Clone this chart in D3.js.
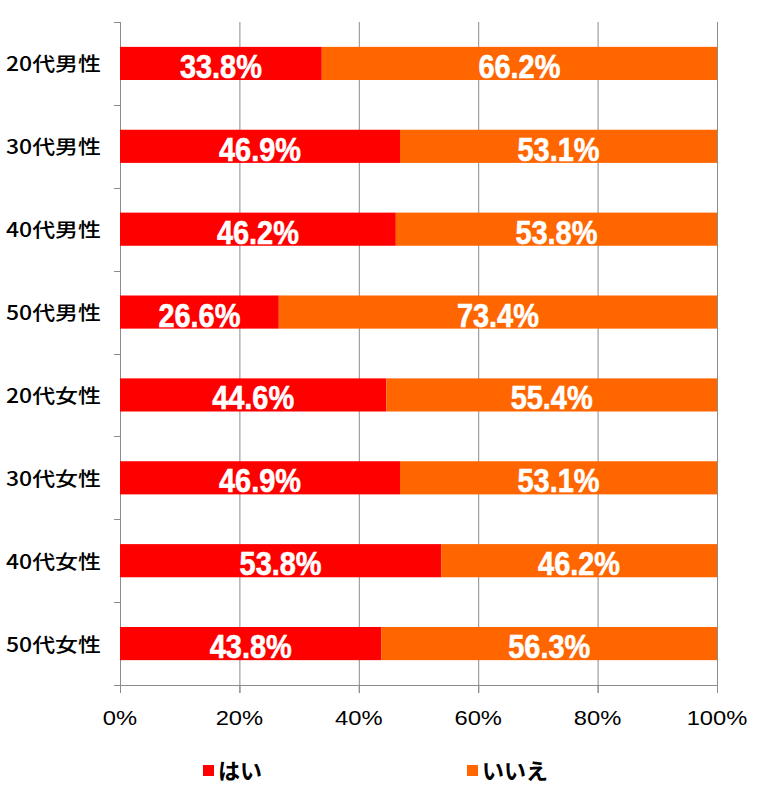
<!DOCTYPE html>
<html><head><meta charset="utf-8">
<script src="https://cdn.jsdelivr.net/npm/d3@7"></script>
<style>body{margin:0;background:#fff}</style>
</head><body>
<svg id="chart" width="766" height="802"></svg>
<script>
const categories = ["20代男性","30代男性","40代男性","50代男性","20代女性","30代女性","40代女性","50代女性"];
const seriesNames = ["はい","いいえ"];
const yesValues = [33.8, 46.9, 46.2, 26.6, 44.6, 46.9, 53.8, 43.8];
const noValues  = [66.2, 53.1, 53.8, 73.4, 55.4, 53.1, 46.2, 56.3];
const xTicks = [0, 20, 40, 60, 80, 100];
const colors = ["#ff0000", "#ff6600"];

const svg = d3.select("#chart");
const mLeft = 120, mRight = 717, mTop = 22, mBottom = 685;
const x = d3.scaleLinear().domain([0, 100]).range([mLeft, mRight]);
const y = d3.scaleBand().domain(categories).range([mTop, mBottom]).paddingInner(0.6).paddingOuter(0.3);
const band = d3.scaleBand().domain(categories).range([mTop, mBottom]);
const gridColor = "#8c8c8c";

// gridlines
svg.append("g").selectAll("line").data(xTicks.slice(1)).join("line")
  .attr("x1", d => x(d) + 0.5).attr("x2", d => x(d) + 0.5)
  .attr("y1", mTop).attr("y2", mBottom + 8)
  .attr("stroke", gridColor).attr("stroke-width", 1);

// left axis
svg.append("line").attr("x1", mLeft + 0.5).attr("x2", mLeft + 0.5).attr("y1", mTop).attr("y2", mBottom + 8)
  .attr("stroke", gridColor);
const boundaries = categories.map(c => band(c)).concat([mBottom]);
svg.append("g").selectAll("line").data(boundaries).join("line")
  .attr("x1", mLeft - 6).attr("x2", mLeft).attr("y1", d => Math.round(d) + 0.5).attr("y2", d => Math.round(d) + 0.5)
  .attr("stroke", gridColor);
// bottom axis
svg.append("line").attr("x1", mLeft).attr("x2", mRight + 1).attr("y1", mBottom + 0.5).attr("y2", mBottom + 0.5)
  .attr("stroke", gridColor);

// stacked data
const rows = categories.map((c, i) => ({cat: c, vals: [yesValues[i], noValues[i]]}));
const segs = [];
rows.forEach(r => {
  let acc = 0;
  r.vals.forEach((v, k) => {
    segs.push({cat: r.cat, k, x0: acc, x1: Math.min(100, acc + v), v});
    acc += v;
  });
});

svg.append("g").selectAll("rect").data(segs).join("rect")
  .attr("x", d => x(d.x0)).attr("width", d => x(d.x1) - x(d.x0))
  .attr("y", d => y(d.cat)).attr("height", y.bandwidth())
  .attr("fill", d => colors[d.k]);

svg.append("g").selectAll("text").data(segs).join("text")
  .attr("x", d => (x(d.x0) + x(d.x1)) / 2)
  .attr("y", d => y(d.cat) + y.bandwidth() / 2 + 14.5)
  .attr("text-anchor", "middle")
  .attr("font-family", "Liberation Sans, Arial, sans-serif")
  .attr("font-weight", "bold")
  .attr("font-size", 34)
  .attr("fill", "#fff")
  .attr("stroke", "#fff").attr("stroke-width", 0.6)
  .attr("textLength", 82).attr("lengthAdjust", "spacingAndGlyphs")
  .text(d => d.v.toFixed(1) + "%");

// category labels
svg.append("g").selectAll("text").data(categories).join("text")
  .attr("x", 101).attr("y", d => y(d) + y.bandwidth() / 2 + 8)
  .attr("text-anchor", "end")
  .attr("font-family", "Noto Sans CJK JP, sans-serif")
  .attr("font-weight", 500)
  .attr("font-size", 19.5)
  .attr("fill", "#000")
  .attr("textLength", 95).attr("lengthAdjust", "spacingAndGlyphs")
  .text(d => d);

// bottom ticks
svg.append("g").selectAll("line").data(xTicks).join("line")
  .attr("x1", d => x(d) + 0.5).attr("x2", d => x(d) + 0.5)
  .attr("y1", mBottom).attr("y2", mBottom + 8).attr("stroke", gridColor);
svg.append("g").selectAll("text").data(xTicks).join("text")
  .attr("x", d => x(d)).attr("y", 725)
  .attr("text-anchor", "middle")
  .attr("font-family", "Liberation Sans, Arial, sans-serif")
  .attr("font-size", 21)
  .attr("fill", "#000")
  .text(d => d + "%")
  .each(function() {
    const w = this.getComputedTextLength();
    d3.select(this).attr("textLength", w * 1.13).attr("lengthAdjust", "spacingAndGlyphs");
  });

// legend
const legendX = [203, 467];
const lg = svg.append("g").selectAll("g").data(seriesNames).join("g");
lg.append("rect").attr("x", (d, i) => legendX[i]).attr("y", 765).attr("width", 11).attr("height", 11)
  .attr("fill", (d, i) => colors[i]);
lg.append("text").attr("x", (d, i) => legendX[i] + 15).attr("y", 779)
  .attr("font-family", "Noto Sans CJK JP, sans-serif").attr("font-weight", "bold")
  .attr("font-size", 22).attr("fill", "#000")
  .text(d => d);
</script>
</body></html>
